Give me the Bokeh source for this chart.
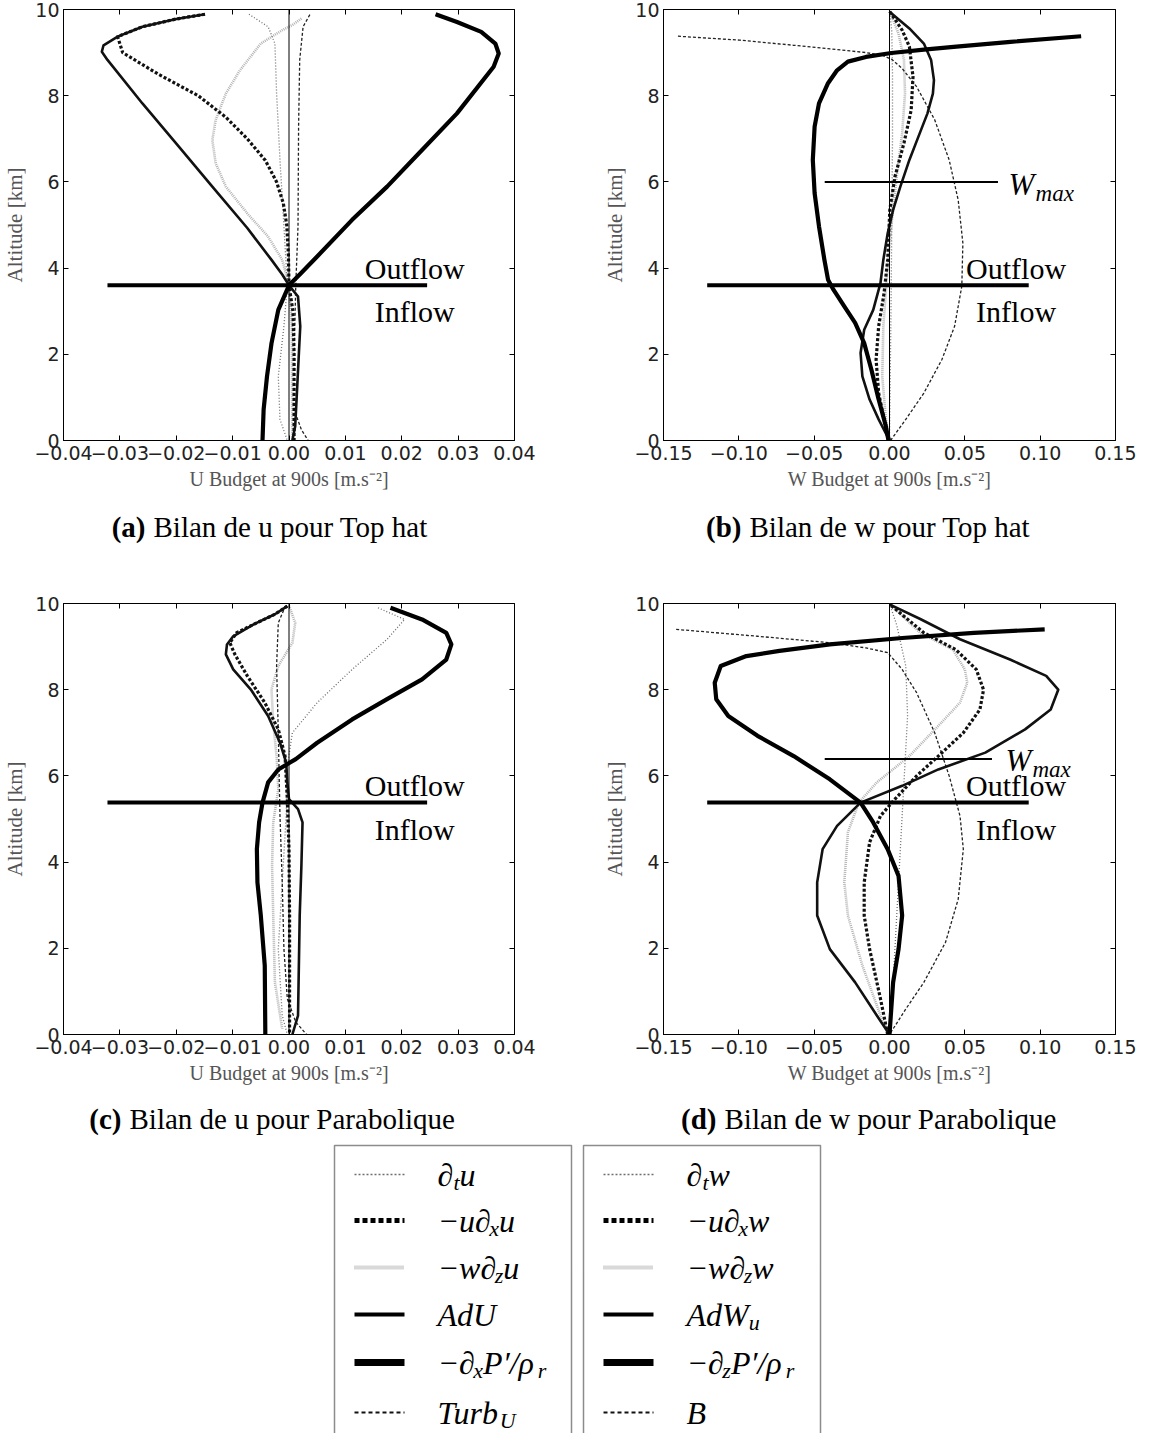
from bokeh.plotting import figure
from bokeh.models import Range1d, LinearAxis, FixedTicker, CustomJSTickFormatter, Span
from bokeh.layouts import column, row
from bokeh.embed import file_html
from bokeh.resources import INLINE
from bokeh.core.properties import value

# ---------------- data ----------------
Y_TICKS = [0, 2, 4, 6, 8, 10]
U_TICKS = [-0.04, -0.03, -0.02, -0.01, 0.0, 0.01, 0.02, 0.03, 0.04]
W_TICKS = [-0.15, -0.10, -0.05, 0.0, 0.05, 0.10, 0.15]
U_XLABEL = "U Budget at 900s [m.s\u207b\u00b2]"
W_XLABEL = "W Budget at 900s [m.s\u207b\u00b2]"
Y_LABEL = "Altitude [km]"
CAPTION_TAGS = ["(a)", "(b)", "(c)", "(d)"]
CAPTION_TEXTS = ["Bilan de u pour Top hat", "Bilan de w pour Top hat",
                 "Bilan de u pour Parabolique", "Bilan de w pour Parabolique"]

# Panel (a): u budget, Top hat
A_DT_X = [-0.0071, -0.0037, -0.0025, -0.0022, -0.0016, -0.0009, -0.0003, -0.0009, -0.0019, -0.0016, -0.0003]
A_DT_Z = [9.89, 9.6, 9.21, 8.05, 6.51, 4.97, 3.6, 2.65, 1.49, 0.49, 0.0]
A_ADVX_X = [-0.0149, -0.0200, -0.0260, -0.0304, -0.0295, -0.0232, -0.0161, -0.0112, -0.0074, -0.0042, -0.0022, -0.0010, -0.0004, -0.0001, 0.0, 0.0007, 0.0009, 0.0009]
A_ADVX_Z = [9.89, 9.78, 9.6, 9.37, 9.0, 8.5, 8.0, 7.5, 7.0, 6.5, 6.0, 5.5, 5.0, 4.3, 3.6, 3.0, 2.0, 0.0]
A_ADVZ_X = [0.0022, 0.0006, -0.0012, -0.005, -0.0087, -0.0112, -0.013, -0.0136, -0.013, -0.0112, -0.0074, -0.0037, -0.0012, 0.0, 0.0005, 0.0006]
A_ADVZ_Z = [9.79, 9.64, 9.52, 9.21, 8.59, 8.05, 7.44, 6.97, 6.43, 5.89, 5.27, 4.73, 4.19, 3.6, 2.65, 0.0]
A_AD_X = [-0.0149, -0.0200, -0.0260, -0.0304, -0.0329, -0.0332, -0.0322, -0.0260, -0.0198, -0.0136, -0.0074, -0.0031, -0.0012, 0.0, 0.0016, 0.0020, 0.0017, 0.0014, 0.0011, 0.0006]
A_AD_Z = [9.89, 9.78, 9.6, 9.37, 9.17, 9.02, 8.83, 7.82, 6.86, 5.89, 4.93, 4.19, 3.85, 3.6, 3.34, 2.65, 1.88, 1.1, 0.33, 0.0]
A_PRS_X = [0.026, 0.0298, 0.0341, 0.0366, 0.0372, 0.0363, 0.0298, 0.0236, 0.0174, 0.0112, 0.005, 0.0019, 0.0, -0.0019, -0.0031, -0.0039, -0.0045, -0.0047]
A_PRS_Z = [9.89, 9.71, 9.48, 9.21, 8.98, 8.67, 7.59, 6.74, 5.89, 5.12, 4.27, 3.85, 3.6, 3.03, 2.26, 1.49, 0.72, 0.0]
A_TURB_X = [0.0037, 0.0025, 0.0019, 0.0017, 0.0016, 0.0012, 0.0009, 0.0009, 0.0022, 0.0034]
A_TURB_Z = [9.88, 9.6, 8.83, 7.28, 4.97, 3.6, 1.88, 0.72, 0.25, 0.0]

# Panel (b): w budget, Top hat
B_DT_X = [0.0, 0.0015, 0.002, 0.002, 0.0015, 0.001, 0.0005, 0.0]
B_DT_Z = [10.0, 9.5, 8.5, 7.0, 5.0, 3.0, 1.5, 0.0]
B_ADVX_X = [0.0002, 0.0084, 0.0132, 0.0156, 0.0144, 0.0096, 0.0036, 0.0002, -0.0012, -0.0036, -0.0072, -0.0089, -0.0072, -0.0031, 0.0]
B_ADVX_Z = [9.95, 9.52, 9.14, 8.44, 7.67, 6.9, 6.12, 5.35, 4.19, 3.42, 2.65, 1.88, 1.1, 0.41, 0.0]
B_ADVZ_X = [0.0002, 0.006, 0.0096, 0.0103, 0.0084, 0.0048, 0.0012, -0.0017, -0.0041, -0.0048, -0.0024, 0.0]
B_ADVZ_Z = [9.95, 9.44, 8.83, 8.05, 7.13, 6.12, 4.97, 3.81, 2.65, 1.49, 0.49, 0.0]
B_AD_X = [0.0, 0.0132, 0.0228, 0.0276, 0.0295, 0.0288, 0.0252, 0.0192, 0.0132, 0.0072, 0.0024, -0.0012, -0.0041, -0.006, -0.0108, -0.0168, -0.0192, -0.018, -0.0132, -0.0072, 0.0]
B_AD_Z = [9.95, 9.56, 9.21, 8.83, 8.36, 8.05, 7.59, 7.05, 6.51, 5.89, 5.35, 4.81, 4.19, 3.65, 3.03, 2.57, 2.03, 1.49, 0.95, 0.49, 0.0]
B_PRS_X = [0.1272, 0.0804, 0.0444, 0.0228, 0.0012, -0.0156, -0.0276, -0.0348, -0.0408, -0.0468, -0.0497, -0.0509, -0.0497, -0.0468, -0.0432, -0.0408, -0.0372, -0.030, -0.0228, -0.0168, -0.012, -0.0072, -0.0024, -0.0007]
B_PRS_Z = [9.38, 9.25, 9.14, 9.07, 8.99, 8.9, 8.79, 8.59, 8.29, 7.82, 7.28, 6.51, 5.74, 4.97, 4.19, 3.73, 3.5, 3.11, 2.73, 2.26, 1.64, 0.95, 0.33, 0.0]
B_B_X = [-0.1404, -0.0996, -0.0636, -0.0348, -0.0156, -0.0048, 0.0017, 0.0084, 0.018, 0.030, 0.0396, 0.0456, 0.0487, 0.048, 0.0432, 0.0348, 0.0228, 0.0108, 0.0007]
B_B_Z = [9.38, 9.29, 9.17, 9.07, 9.0, 8.94, 8.84, 8.63, 8.21, 7.44, 6.51, 5.58, 4.58, 3.58, 2.65, 1.88, 1.1, 0.49, 0.0]

# Panel (c): u budget, Parabolique
C_DT_X = [0.0158, 0.0205, 0.0174, 0.0112, 0.005, 0.0006, -0.0003, -0.0005, -0.0012, -0.0019, -0.0012, -0.0003]
C_DT_Z = [9.9, 9.63, 9.17, 8.47, 7.7, 7.0, 6.23, 5.07, 3.53, 1.98, 0.44, 0.0]
C_ADVX_X = [-0.0003, -0.0025, -0.0062, -0.0093, -0.0105, -0.0096, -0.0074, -0.0043, -0.0019, -0.0007, -0.0003, 0.0, 0.0001, 0.0001]
C_ADVX_Z = [9.94, 9.75, 9.52, 9.32, 9.09, 8.82, 8.32, 7.7, 7.08, 6.46, 5.46, 4.3, 2.76, 0.0]
C_ADVZ_X = [0.0, 0.0011, 0.0006, -0.0019, -0.0031, -0.0028, -0.0022, -0.0019, -0.0028, -0.003, -0.0028, -0.0025, -0.0012]
C_ADVZ_Z = [9.95, 9.55, 9.09, 8.55, 8.01, 7.24, 6.46, 5.69, 4.92, 3.92, 2.76, 1.21, 0.13]
C_AD_X = [-0.0003, -0.0025, -0.0062, -0.0099, -0.011, -0.0112, -0.0099, -0.0068, -0.0037, -0.0016, -0.0005, -0.0003, 0.0, 0.0016, 0.0024, 0.0022, 0.0019, 0.0017, 0.0016, 0.0006]
C_AD_Z = [9.94, 9.75, 9.52, 9.24, 9.05, 8.82, 8.47, 8.01, 7.39, 6.77, 6.31, 5.85, 5.46, 5.23, 4.92, 3.92, 2.76, 1.21, 0.44, 0.0]
C_PRS_X = [0.018, 0.0236, 0.0279, 0.0288, 0.0279, 0.0236, 0.0174, 0.0112, 0.005, 0.0012, -0.0019, -0.0037, -0.0047, -0.0053, -0.0057, -0.0056, -0.005, -0.0043, -0.0042]
C_PRS_Z = [9.9, 9.63, 9.32, 9.05, 8.7, 8.24, 7.78, 7.31, 6.77, 6.39, 6.15, 5.85, 5.38, 4.92, 4.3, 3.53, 2.76, 1.6, 0.0]
C_TURB_X = [-0.0006, -0.0019, -0.0022, -0.0019, -0.0016, -0.0012, -0.0009, -0.0003, 0.0012, 0.0031]
C_TURB_Z = [9.95, 9.55, 8.55, 7.0, 5.07, 3.53, 1.98, 0.83, 0.29, 0.0]

# Panel (d): w budget, Parabolique
D_DT_X = [0.0, 0.0048, 0.0108, 0.012, 0.0096, 0.0072, 0.0048, 0.0024, 0.0]
D_DT_Z = [10.0, 9.5, 8.55, 7.39, 5.85, 4.3, 2.76, 1.21, 0.0]
D_ADVX_X = [0.0012, 0.0228, 0.044, 0.0576, 0.0624, 0.06, 0.049, 0.0324, 0.018, 0.0036, -0.006, -0.0132, -0.0168, -0.0168, -0.0132, -0.006, -0.0012]
D_ADVX_Z = [9.95, 9.32, 8.93, 8.47, 8.0, 7.54, 7.0, 6.46, 6.0, 5.46, 5.07, 4.46, 3.53, 2.76, 1.98, 0.83, 0.0]
D_ADVZ_X = [0.0012, 0.0204, 0.042, 0.05, 0.0516, 0.0468, 0.0324, 0.0132, -0.0084, -0.0204, -0.0276, -0.030, -0.0276, -0.018, -0.006, 0.0]
D_ADVZ_Z = [9.95, 9.32, 8.93, 8.47, 8.16, 7.7, 7.16, 6.46, 5.85, 5.38, 4.69, 3.53, 2.76, 1.6, 0.44, 0.0]
D_AD_X = [0.0, 0.0204, 0.0468, 0.080, 0.104, 0.112, 0.107, 0.090, 0.0636, 0.0324, 0.0084, -0.0192, -0.0348, -0.0444, -0.048, -0.048, -0.0396, -0.0228, -0.0084, 0.0]
D_AD_Z = [9.98, 9.64, 9.17, 8.7, 8.32, 8.0, 7.54, 7.08, 6.54, 6.15, 5.77, 5.38, 4.84, 4.3, 3.53, 2.76, 1.98, 1.21, 0.44, 0.0]
D_PRS_X = [0.103, 0.056, 0.0084, -0.0396, -0.073, -0.095, -0.112, -0.116, -0.115, -0.107, -0.0876, -0.0636, -0.0396, -0.0192, -0.0108, -0.0012, 0.006, 0.0084, 0.006, 0.0024, 0.0]
D_PRS_Z = [9.4, 9.32, 9.2, 9.05, 8.9, 8.78, 8.55, 8.16, 7.78, 7.39, 6.93, 6.46, 5.92, 5.38, 4.92, 4.3, 3.68, 2.76, 1.98, 1.21, 0.0]
D_B_X = [-0.1416, -0.0876, -0.0396, -0.0156, -0.0012, 0.0084, 0.018, 0.030, 0.0396, 0.0468, 0.049, 0.0456, 0.0372, 0.0228, 0.0108, 0.0]
D_B_Z = [9.4, 9.24, 9.09, 8.97, 8.86, 8.47, 7.93, 7.0, 6.0, 5.07, 4.3, 3.14, 2.14, 1.21, 0.59, 0.0]

# Outflow/Inflow boundary and W_max levels
A_FLOW_Z, A_FLOW_X = 3.6, [-0.0322, 0.0245]
B_FLOW_Z, B_FLOW_X = 3.6, [-0.121, 0.0924]
C_FLOW_Z, C_FLOW_X = 5.38, [-0.0322, 0.0245]
D_FLOW_Z, D_FLOW_X = 5.38, [-0.121, 0.0924]
B_WMAX_Z, B_WMAX_X = 6.0, [-0.043, 0.072]
D_WMAX_Z, D_WMAX_X = 6.39, [-0.043, 0.068]

LEG_U = [[("\u2202", "n"), ("t", "s"), ("u", "n")],
         [("\u2212u\u2202", "n"), ("x", "s"), ("u", "n")],
         [("\u2212w\u2202", "n"), ("z", "s"), ("u", "n")],
         [("AdU", "n")],
         [("\u2212\u2202", "n"), ("x", "s"), ("P\u2032/\u03c1", "n"), ("r", "s")],
         [("Turb", "n"), ("U", "s")]]
LEG_W = [[("\u2202", "n"), ("t", "s"), ("w", "n")],
         [("\u2212u\u2202", "n"), ("x", "s"), ("w", "n")],
         [("\u2212w\u2202", "n"), ("z", "s"), ("w", "n")],
         [("AdW", "n"), ("u", "s")],
         [("\u2212\u2202", "n"), ("z", "s"), ("P\u2032/\u03c1", "n"), ("r", "s")],
         [("B", "n")]]

# ---------------- styles ----------------
STYLES = [
    dict(line_color="#6e6e6e", line_width=1.3, line_dash="1 2"),   # d_t
    dict(line_color="#111111", line_width=3.2, line_dash="3 2"),   # -u d_x
    dict(line_color="#b3b3b3", line_width=2.6, line_dash="1 1"),   # -w d_z
    dict(line_color="#111111", line_width=2.6),                    # Ad
    dict(line_color="#000000", line_width=4.2),                    # pressure
    dict(line_color="#222222", line_width=1.3, line_dash="3 2"),   # Turb / B
]
LEG_STYLES = [
    dict(line_color="#6e6e6e", line_width=1.6, line_dash="2 2"),
    dict(line_color="#000000", line_width=5, line_dash="5 3"),
    dict(line_color="#b3b3b3", line_width=4, line_dash="1 1"),
    dict(line_color="#000000", line_width=4),
    dict(line_color="#000000", line_width=7),
    dict(line_color="#111111", line_width=2, line_dash="4 3"),
]
SERIF = "Liberation Serif"
SANS = "DejaVu Sans"

CW = {"\u2202": 0.50, "u": 0.50, "w": 0.667, "x": 0.444, "z": 0.389, "t": 0.278, "A": 0.611,
      "d": 0.5, "U": 0.722, "W": 0.833, "P": 0.611, "\u2032": 0.30, "/": 0.30, "\u03c1": 0.5,
      "r": 0.389, "T": 0.556, "b": 0.5, "B": 0.611, "\u2212": 0.62}


def est_width(txt, fs):
    return sum(CW.get(c, 0.5) for c in txt) * fs


def make_panel(xr, xticks, xlabel, series, flow_z, flow_x, flow_txt_x, out_z, in_z,
               wmax=None, width=600, height=500, bl=55, br=86, bt=9, bb=60):
    p = figure(width=width, height=height, x_range=Range1d(*xr), y_range=Range1d(0, 10),
               toolbar_location=None, output_backend="svg",
               min_border_left=bl, min_border_right=br, min_border_top=bt, min_border_bottom=bb)
    p.xgrid.grid_line_color = None
    p.ygrid.grid_line_color = None
    p.outline_line_color = "black"
    p.outline_line_width = 1
    p.outline_line_alpha = 1
    p.background_fill_color = "white"
    p.border_fill_color = "white"

    fmt = CustomJSTickFormatter(code="return (tick < -1e-9 ? '\u2212' : '') + Math.abs(tick).toFixed(2);")
    for ax in (p.xaxis[0], p.yaxis[0]):
        ax.major_tick_in = 5
        ax.major_tick_out = 0
        ax.minor_tick_line_color = None
        ax.axis_line_color = "black"
        ax.major_tick_line_color = "black"
        ax.major_label_text_font = SANS
        ax.major_label_text_font_size = "19px"
        ax.major_label_text_color = "#222222"
        ax.axis_label_text_font = SERIF
        ax.axis_label_text_font_style = "normal"
        ax.axis_label_text_color = "#555555"
        ax.axis_label_text_font_size = "20px"
        ax.major_label_standoff = 4
        ax.axis_label_standoff = 5
    p.xaxis[0].major_label_standoff = 5
    p.xaxis[0].ticker = FixedTicker(ticks=xticks)
    p.xaxis[0].formatter = fmt
    p.xaxis[0].axis_label = xlabel
    p.yaxis[0].ticker = FixedTicker(ticks=Y_TICKS)
    p.yaxis[0].axis_label = Y_LABEL
    p.yaxis[0].axis_label_text_font_size = "21px"

    empty = CustomJSTickFormatter(code="return '';")
    top = LinearAxis(ticker=FixedTicker(ticks=xticks), formatter=empty, major_tick_in=5, major_tick_out=0,
                     minor_tick_line_color=None, axis_line_color=None, major_label_text_font_size="1px",
                     major_label_standoff=0)
    right = LinearAxis(ticker=FixedTicker(ticks=Y_TICKS), formatter=empty, major_tick_in=5, major_tick_out=0,
                       minor_tick_line_color=None, axis_line_color=None, major_label_text_font_size="1px",
                       major_label_standoff=0)
    p.add_layout(top, "above")
    p.add_layout(right, "right")

    p.add_layout(Span(location=0, dimension="height", line_color="black", line_width=1))

    order = [2, 0, 5, 1, 3, 4]
    for i in order:
        xs, zs = series[i]
        p.line(x=xs, y=zs, line_join="round", **STYLES[i])

    p.segment(x0=[flow_x[0]], y0=[flow_z], x1=[flow_x[1]], y1=[flow_z], line_color="black", line_width=4)
    txt_kw = dict(text_font=value(SERIF), text_font_size=value("30px"), text_align="center",
                  text_baseline="middle", text_color="black")
    p.text(x=[flow_txt_x], y=[out_z], text=["Outflow"], **txt_kw)
    p.text(x=[flow_txt_x], y=[in_z], text=["Inflow"], **txt_kw)

    if wmax is not None:
        wz, wx, wtx, wtz = wmax
        p.segment(x0=[wx[0]], y0=[wz], x1=[wx[1]], y1=[wz], line_color="black", line_width=2)
        p.text(x=[wtx], y=[wtz], text=["W"], text_font=value(SERIF), text_font_size=value("31px"),
               text_font_style="italic", text_align="left", text_baseline="middle")
        p.text(x=[wtx], y=[wtz], text=["max"], x_offset=27, y_offset=9, text_font=value(SERIF),
               text_font_size=value("23px"), text_font_style="italic", text_align="left",
               text_baseline="middle")
    return p


def canvas(w, h):
    c = figure(width=w, height=h, x_range=Range1d(0, w), y_range=Range1d(h, 0),
               toolbar_location=None, output_backend="svg", x_axis_type=None, y_axis_type=None,
               min_border=0)
    c.outline_line_color = None
    c.background_fill_color = "white"
    c.border_fill_color = "white"
    return c


def caption(c, tag, text, split_x, y):
    c.text(x=[split_x - 3], y=[y], text=[tag], text_font=value(SERIF), text_font_size=value("29px"),
           text_font_style="bold", text_align="right", text_baseline="middle")
    c.text(x=[split_x + 5], y=[y], text=[text], text_font=value(SERIF), text_font_size=value("29px"),
           text_align="left", text_baseline="middle")


def pieces(c, x0, y, parts, fs=32, sfs=22, dy=8):
    x = x0
    for txt, kind in parts:
        size = fs if kind == "n" else sfs
        yy = y if kind == "n" else y + dy
        c.text(x=[x], y=[yy], text=[txt], text_font=value(SERIF), text_font_size=value(f"{size}px"),
               text_font_style="italic", text_align="left", text_baseline="middle")
        x += est_width(txt, size)


# ---------------- panels ----------------
A_SERIES = [(A_DT_X, A_DT_Z), (A_ADVX_X, A_ADVX_Z), (A_ADVZ_X, A_ADVZ_Z), (A_AD_X, A_AD_Z), (A_PRS_X, A_PRS_Z), (A_TURB_X, A_TURB_Z)]
B_SERIES = [(B_DT_X, B_DT_Z), (B_ADVX_X, B_ADVX_Z), (B_ADVZ_X, B_ADVZ_Z), (B_AD_X, B_AD_Z), (B_PRS_X, B_PRS_Z), (B_B_X, B_B_Z)]
C_SERIES = [(C_DT_X, C_DT_Z), (C_ADVX_X, C_ADVX_Z), (C_ADVZ_X, C_ADVZ_Z), (C_AD_X, C_AD_Z), (C_PRS_X, C_PRS_Z), (C_TURB_X, C_TURB_Z)]
D_SERIES = [(D_DT_X, D_DT_Z), (D_ADVX_X, D_ADVX_Z), (D_ADVZ_X, D_ADVZ_Z), (D_AD_X, D_AD_Z), (D_PRS_X, D_PRS_Z), (D_B_X, D_B_Z)]

pa = make_panel((-0.04, 0.04), U_TICKS, U_XLABEL, A_SERIES, A_FLOW_Z, A_FLOW_X, 0.0223, 4.0, 3.0,
                width=600, height=500, bl=55, br=86, bt=9, bb=60)
pb = make_panel((-0.15, 0.15), W_TICKS, W_XLABEL, B_SERIES, B_FLOW_Z, B_FLOW_X, 0.084, 4.0, 3.0,
                wmax=(B_WMAX_Z, B_WMAX_X, 0.079, 5.93),
                width=536, height=500, bl=55, br=21, bt=9, bb=60)
pc = make_panel((-0.04, 0.04), U_TICKS, U_XLABEL, C_SERIES, C_FLOW_Z, C_FLOW_X, 0.0223, 5.77, 4.76,
                width=600, height=542, bl=55, br=86, bt=51, bb=60)
pd = make_panel((-0.15, 0.15), W_TICKS, W_XLABEL, D_SERIES, D_FLOW_Z, D_FLOW_X, 0.084, 5.77, 4.76,
                wmax=(D_WMAX_Z, D_WMAX_X, 0.077, 6.36),
                width=536, height=542, bl=55, br=21, bt=51, bb=60)

# caption row 1
cap1 = canvas(1136, 52)
caption(cap1, CAPTION_TAGS[0], CAPTION_TEXTS[0], 148, 26)
caption(cap1, CAPTION_TAGS[1], CAPTION_TEXTS[1], 744, 26)

# bottom: caption row 2 + legend
bot = canvas(1136, 339)
caption(bot, CAPTION_TAGS[2], CAPTION_TEXTS[2], 124, 24)
caption(bot, CAPTION_TAGS[3], CAPTION_TEXTS[3], 719, 24)

BOX_L = [334, 583]
BOX_W = 237
ROW_Y = [80, 126, 173, 220, 268, 318]
bot.quad(left=[b for b in BOX_L], right=[b + BOX_W for b in BOX_L], top=[51, 51], bottom=[360, 360],
         fill_color=None, line_color="#8c8c8c", line_width=1.5)
for bx, labels in zip(BOX_L, [LEG_U, LEG_W]):
    for i, (ry, parts) in enumerate(zip(ROW_Y, labels)):
        bot.line(x=[bx + 20, bx + 70], y=[ry, ry], **LEG_STYLES[i])
        pieces(bot, bx + 103, ry, parts)

layout = column(row(pa, pb), cap1, row(pc, pd), bot)
open("out.html", "w").write(file_html(layout, INLINE))
